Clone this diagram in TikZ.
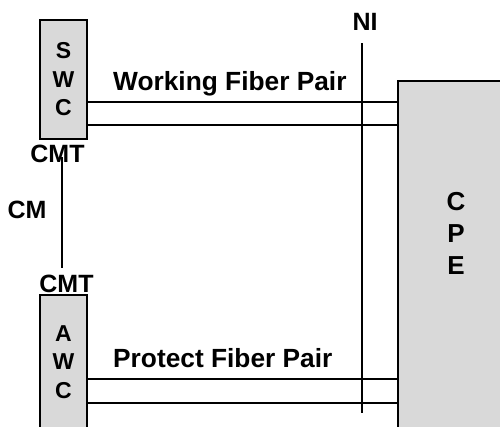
\documentclass[tikz,border=0pt]{standalone}
\usepackage{fontspec}
\setmainfont{Liberation Sans}
\usetikzlibrary{positioning}
\tikzstyle{unit}     = [draw, line width=2pt, fill=black!15, inner sep=0pt, align=center, font=\fontsize{23}{28.5}\selectfont\bfseries]
\tikzstyle{lbl}      = [inner sep=0pt, anchor=base, font=\fontsize{25}{28}\selectfont\bfseries]
\tikzstyle{fiber}    = [line width=2pt]

\begin{document}
\begin{tikzpicture}[x=1pt,y=-1pt]
\useasboundingbox (0,0) rectangle (500,426);
\clip (0,0) rectangle (500,426);

\node[unit,minimum width=47pt,minimum height=119pt] (SWC) at (63.5,79.5) {S\\W\\C};
\node[unit,minimum width=47pt,minimum height=134pt] (AWC) at (63.5,362) {A\\W\\C};
\node[unit,anchor=north west,minimum width=150pt,minimum height=400pt] (CPE) at (397,80) {};
\node[inner sep=0pt,align=center,font=\fontsize{26}{32}\selectfont\bfseries] (CPEtext) at (456,233) {C\\P\\E};

\node[lbl] (CMT1) at (57.5,162) {CMT};
\node[lbl] (CMT2) at (66.5,292) {CMT};
\node[lbl] (CM)   at (27,218) {CM};
\node[lbl] (NI)   at (365,30) {NI};

\node[lbl,anchor=base west,font=\fontsize{26.3}{28}\selectfont\bfseries] (WFP) at (113,90) {Working Fiber Pair};
\node[lbl,anchor=base west,font=\fontsize{26.3}{28}\selectfont\bfseries] (PFP) at (113,367) {Protect Fiber Pair};

\coordinate (NItop) at (362,43);
\coordinate (NIbot) at (362,413);

\draw[fiber] ([yshift=-22.5pt]SWC.east) -- ([yshift=-22.5pt]SWC.east -| CPE.west);
\draw[fiber] ([yshift=-45.5pt]SWC.east) -- ([yshift=-45.5pt]SWC.east -| CPE.west);
\draw[fiber] ([yshift=-17pt]AWC.east) -- ([yshift=-17pt]AWC.east -| CPE.west);
\draw[fiber] ([yshift=-41pt]AWC.east) -- ([yshift=-41pt]AWC.east -| CPE.west);

\draw[fiber] (NItop) -- (NIbot);
\draw[fiber] ([yshift=5pt]CMT1.base -| 62,0) -- ([yshift=6pt]CMT2.north -| 62,0);

\end{tikzpicture}
\end{document}
